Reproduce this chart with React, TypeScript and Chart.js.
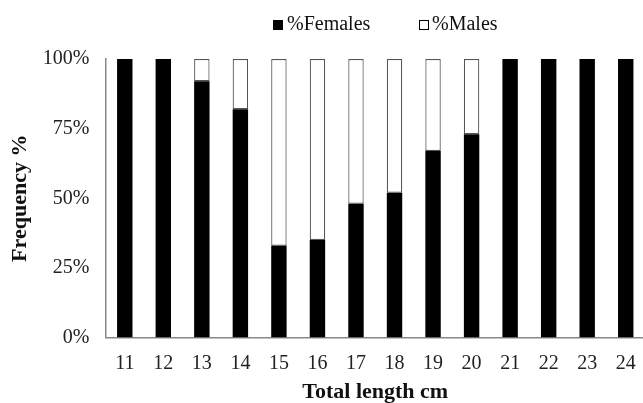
import React, { useEffect, useRef } from "react";
import { Chart, registerables } from "chart.js";

Chart.register(...registerables);

const categories = ["11", "12", "13", "14", "15", "16", "17", "18", "19", "20", "21", "22", "23", "24"];
const femalesPct = [100, 100, 92, 82, 33, 35, 48, 52, 67, 73, 100, 100, 100, 100];
const malesPct = [0, 0, 8, 18, 67, 65, 52, 48, 33, 27, 0, 0, 0, 0];
const yTicks = [0, 25, 50, 75, 100];
const legendLabels = ["%Females", "%Males"];

const SERIF = "'Liberation Serif', 'Times New Roman', serif";

export default function App() {
  const ref = useRef<HTMLCanvasElement | null>(null);

  useEffect(() => {
    document.body.style.margin = "0";
    const canvas = ref.current;
    if (!canvas) return;
    const chart = new Chart(canvas, {
      type: "bar",
      data: {
        labels: categories,
        datasets: [
          {
            label: legendLabels[0],
            data: femalesPct,
            backgroundColor: "#000000",
            borderColor: "#000000",
            borderWidth: 0,
            categoryPercentage: 1,
            barPercentage: 0.4,
          },
          {
            label: legendLabels[1],
            data: malesPct,
            backgroundColor: "#ffffff",
            borderColor: "#555555",
            borderWidth: 1.2,
            borderSkipped: false,
            categoryPercentage: 1,
            barPercentage: 0.4,
          },
        ],
      },
      options: {
        animation: false,
        responsive: false,
        maintainAspectRatio: false,
        layout: { padding: { top: 59, left: 0, right: 5, bottom: 0 } },
        plugins: {
          legend: { display: false },
          tooltip: { enabled: false },
        },
        scales: {
          x: {
            stacked: true,
            grid: { display: false, drawTicks: false },
            border: { display: true, color: "#888888", width: 1.5 },
            ticks: {
              color: "#222222",
              font: { family: SERIF, size: 20 },
              padding: 14,
              maxRotation: 0,
              autoSkip: false,
            },
            title: {
              display: true,
              text: "Total length cm",
              color: "#111111",
              font: { family: SERIF, size: 22, weight: "bold" },
              padding: { top: 0, bottom: 4 },
            },
            afterFit: (scale: any) => {
              scale.height = 72.5;
            },
          },
          y: {
            stacked: true,
            min: 0,
            max: 100,
            grid: { display: false, drawTicks: false },
            border: { display: true, color: "#888888", width: 1.5 },
            afterBuildTicks: (scale: any) => {
              scale.ticks = yTicks.map((v) => ({ value: v }));
            },
            ticks: {
              color: "#222222",
              font: { family: SERIF, size: 20 },
              padding: 16,
              callback: (v: any) => v + "%",
            },
            title: {
              display: true,
              text: "Frequency %",
              color: "#111111",
              font: { family: SERIF, size: 22, weight: "bold" },
              padding: { top: 7, bottom: 0 },
            },
            afterFit: (scale: any) => {
              scale.width = 105.5;
            },
          },
        },
      },
    });
    return () => chart.destroy();
  }, []);

  const textStyle: React.CSSProperties = {
    position: "absolute",
    fontFamily: SERIF,
    fontSize: 20,
    lineHeight: "20px",
    color: "#111",
    whiteSpace: "nowrap",
    top: 13,
  };

  return (
    <div
      style={{
        position: "fixed",
        left: 0,
        top: 0,
        width: 643,
        height: 403,
        overflow: "hidden",
        background: "#fff",
      }}
    >
      <canvas ref={ref} width={650} height={410} style={{ width: 650, height: 410, display: "block" }} />
      <div style={{ position: "absolute", left: 273, top: 20, width: 10, height: 10, background: "#000" }} />
      <span style={{ ...textStyle, left: 287 }}>{legendLabels[0]}</span>
      <div
        style={{
          position: "absolute",
          left: 419,
          top: 20,
          width: 10,
          height: 10,
          boxSizing: "border-box",
          border: "1px solid #000",
          background: "#fff",
        }}
      />
      <span style={{ ...textStyle, left: 432 }}>{legendLabels[1]}</span>
    </div>
  );
}
